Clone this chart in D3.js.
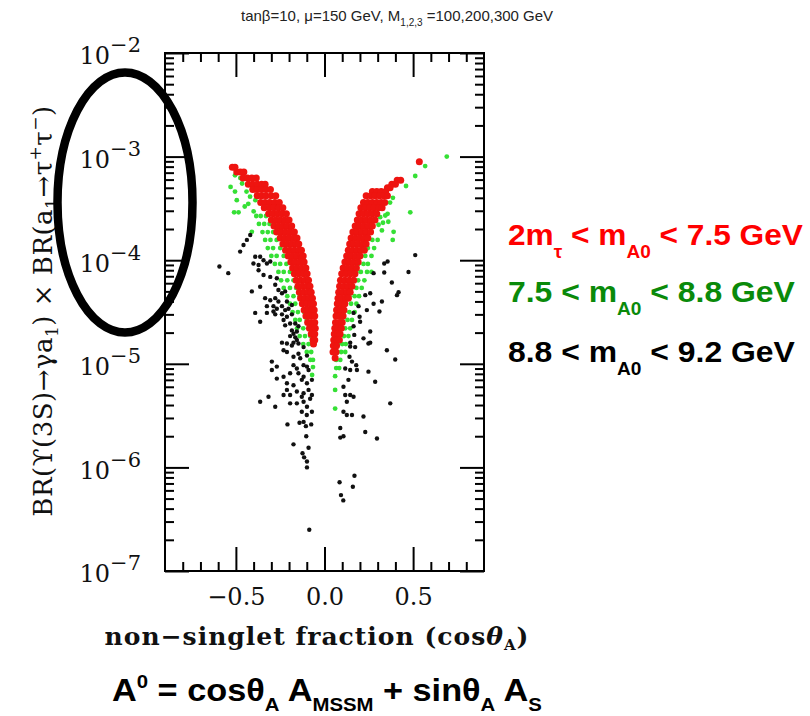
<!DOCTYPE html>
<html><head><meta charset="utf-8">
<script src="https://cdn.jsdelivr.net/npm/d3@7/dist/d3.min.js"></script>
<style>body{margin:0;background:#fff}svg{display:block}</style>
</head><body>
<svg id="chart" width="810" height="716"></svg>
<script>
// ---------- data: [cosθA, BR] ----------
const redPts = [
[-0.52,7.9e-4],[-0.505,7.9e-4],
[-0.495,7.1e-4],[-0.475,7.1e-4],[-0.455,7.1e-4],
[-0.46,6.2e-4],[-0.435,6.2e-4],[-0.41,6.2e-4],[-0.385,6.2e-4],
[-0.43,5.4e-4],[-0.405,5.4e-4],[-0.38,5.4e-4],[-0.355,5.4e-4],[-0.335,5.4e-4],
[-0.405,4.8e-4],[-0.38,4.8e-4],[-0.355,4.8e-4],[-0.33,4.8e-4],[-0.305,4.8e-4],
[-0.38,4.2e-4],[-0.355,4.2e-4],[-0.33,4.2e-4],[-0.30,4.2e-4],[-0.275,4.2e-4],
[-0.36,3.6e-4],[-0.335,3.6e-4],[-0.31,3.6e-4],[-0.28,3.6e-4],[-0.255,3.6e-4],
[-0.34,3.2e-4],[-0.31,3.2e-4],[-0.285,3.2e-4],[-0.26,3.2e-4],[-0.235,3.2e-4],
[-0.315,2.8e-4],[-0.29,2.8e-4],[-0.265,2.8e-4],[-0.24,2.8e-4],[-0.215,2.8e-4],
[-0.30,2.44e-4],[-0.275,2.44e-4],[-0.25,2.44e-4],[-0.225,2.44e-4],[-0.20,2.44e-4],
[-0.285,2.14e-4],[-0.26,2.14e-4],[-0.235,2.14e-4],[-0.21,2.14e-4],[-0.185,2.14e-4],
[-0.27,1.87e-4],[-0.245,1.87e-4],[-0.22,1.87e-4],[-0.195,1.87e-4],[-0.17,1.87e-4],
[-0.25,1.64e-4],[-0.225,1.64e-4],[-0.20,1.64e-4],[-0.175,1.64e-4],[-0.155,1.64e-4],
[-0.235,1.43e-4],[-0.21,1.43e-4],[-0.185,1.43e-4],[-0.16,1.43e-4],[-0.145,1.43e-4],
[-0.22,1.25e-4],[-0.195,1.25e-4],[-0.17,1.25e-4],[-0.145,1.25e-4],[-0.13,1.25e-4],
[-0.205,1.1e-4],[-0.18,1.1e-4],[-0.155,1.1e-4],[-0.13,1.1e-4],[-0.12,1.1e-4],
[-0.19,9.6e-5],[-0.165,9.6e-5],[-0.14,9.6e-5],[-0.115,9.6e-5],
[-0.18,8.4e-5],[-0.155,8.4e-5],[-0.13,8.4e-5],[-0.105,8.4e-5],
[-0.17,7.4e-5],[-0.145,7.4e-5],[-0.12,7.4e-5],[-0.098,7.4e-5],
[-0.16,6.4e-5],[-0.135,6.4e-5],[-0.11,6.4e-5],[-0.09,6.4e-5],
[-0.15,5.6e-5],[-0.125,5.6e-5],[-0.1,5.6e-5],[-0.082,5.6e-5],
[-0.142,4.9e-5],[-0.118,4.9e-5],[-0.094,4.9e-5],[-0.075,4.9e-5],
[-0.135,4.3e-5],[-0.11,4.3e-5],[-0.087,4.3e-5],[-0.068,4.3e-5],
[-0.125,3.8e-5],[-0.1,3.8e-5],[-0.078,3.8e-5],[-0.062,3.8e-5],
[-0.115,3.3e-5],[-0.092,3.3e-5],[-0.07,3.3e-5],[-0.058,3.3e-5],
[-0.105,2.9e-5],[-0.085,2.9e-5],[-0.065,2.9e-5],[-0.055,2.9e-5],
[-0.095,2.5e-5],[-0.075,2.5e-5],[-0.055,2.5e-5],
[-0.085,2.2e-5],[-0.068,2.2e-5],[-0.052,2.2e-5],
[-0.075,1.94e-5],[-0.055,1.94e-5],
[-0.065,1.7e-5],[-0.055,1.7e-5],
[-0.062,1.55e-5],
[0.535,8.9e-4],
[0.41,5.9e-4],[0.43,5.9e-4],
[0.38,5.4e-4],[0.40,5.4e-4],
[0.355,5.0e-4],[0.37,5.0e-4],
[0.27,4.6e-4],[0.295,4.6e-4],[0.32,4.6e-4],[0.345,4.6e-4],
[0.235,4.2e-4],[0.26,4.2e-4],[0.285,4.2e-4],[0.31,4.2e-4],[0.335,4.2e-4],[0.355,4.2e-4],
[0.22,3.6e-4],[0.245,3.6e-4],[0.27,3.6e-4],[0.295,3.6e-4],[0.32,3.6e-4],[0.34,3.6e-4],
[0.205,3.2e-4],[0.23,3.2e-4],[0.255,3.2e-4],[0.28,3.2e-4],[0.305,3.2e-4],[0.325,3.2e-4],
[0.195,2.8e-4],[0.22,2.8e-4],[0.245,2.8e-4],[0.27,2.8e-4],[0.295,2.8e-4],
[0.185,2.44e-4],[0.21,2.44e-4],[0.235,2.44e-4],[0.26,2.44e-4],[0.285,2.44e-4],
[0.173,2.14e-4],[0.197,2.14e-4],[0.222,2.14e-4],[0.247,2.14e-4],[0.27,2.14e-4],
[0.16,1.87e-4],[0.185,1.87e-4],[0.21,1.87e-4],[0.235,1.87e-4],[0.26,1.87e-4],
[0.15,1.64e-4],[0.175,1.64e-4],[0.20,1.64e-4],[0.225,1.64e-4],[0.245,1.64e-4],
[0.142,1.43e-4],[0.165,1.43e-4],[0.19,1.43e-4],[0.215,1.43e-4],[0.235,1.43e-4],
[0.134,1.25e-4],[0.158,1.25e-4],[0.182,1.25e-4],[0.206,1.25e-4],[0.225,1.25e-4],
[0.125,1.1e-4],[0.15,1.1e-4],[0.175,1.1e-4],[0.2,1.1e-4],
[0.115,9.6e-5],[0.14,9.6e-5],[0.165,9.6e-5],[0.19,9.6e-5],
[0.105,8.4e-5],[0.13,8.4e-5],[0.155,8.4e-5],[0.18,8.4e-5],
[0.097,7.4e-5],[0.122,7.4e-5],[0.147,7.4e-5],[0.172,7.4e-5],
[0.09,6.4e-5],[0.115,6.4e-5],[0.14,6.4e-5],[0.165,6.4e-5],
[0.085,5.6e-5],[0.11,5.6e-5],[0.133,5.6e-5],[0.155,5.6e-5],
[0.08,4.9e-5],[0.103,4.9e-5],[0.126,4.9e-5],[0.145,4.9e-5],
[0.076,4.3e-5],[0.098,4.3e-5],[0.12,4.3e-5],[0.135,4.3e-5],
[0.072,3.8e-5],[0.094,3.8e-5],[0.115,3.8e-5],
[0.068,3.3e-5],[0.09,3.3e-5],[0.11,3.3e-5],
[0.065,2.9e-5],[0.086,2.9e-5],[0.105,2.9e-5],
[0.062,2.5e-5],[0.082,2.5e-5],[0.1,2.5e-5],
[0.058,2.2e-5],[0.078,2.2e-5],[0.095,2.2e-5],
[0.055,1.94e-5],[0.075,1.94e-5],[0.088,1.94e-5],
[0.052,1.7e-5],[0.07,1.7e-5],[0.084,1.7e-5],
[0.05,1.49e-5],[0.068,1.49e-5],
[0.048,1.3e-5],[0.065,1.3e-5],
[0.06,1.14e-5]
];

const greenPts = [
[-0.53,5.1e-4],[-0.505,6.6e-4],[-0.505,4.6e-4],[-0.495,3.8e-4],[-0.51,2.9e-4],[-0.485,2.9e-4],
[-0.45,3.3e-4],[-0.43,3.5e-4],[-0.40,2.96e-4],[-0.465,5.5e-4],[-0.44,4.6e-4],[-0.42,4.1e-4],
[-0.39,3.8e-4],[-0.41,1.88e-4],[-0.475,6.2e-4],
[-0.385,2.67e-4],[-0.36,2.67e-4],[-0.33,2.67e-4],
[-0.37,2.24e-4],[-0.34,2.24e-4],[-0.31,2.24e-4],
[-0.35,1.87e-4],[-0.32,1.87e-4],[-0.29,1.87e-4],
[-0.335,1.57e-4],[-0.305,1.57e-4],[-0.27,1.57e-4],
[-0.32,1.31e-4],[-0.29,1.31e-4],[-0.25,1.31e-4],
[-0.30,1.1e-4],[-0.27,1.1e-4],[-0.23,1.1e-4],
[-0.28,9.2e-5],[-0.25,9.2e-5],[-0.215,9.2e-5],
[-0.26,7.7e-5],[-0.23,7.7e-5],[-0.195,7.7e-5],
[-0.245,6.4e-5],[-0.21,6.4e-5],[-0.175,6.4e-5],
[-0.23,5.4e-5],[-0.195,5.4e-5],[-0.16,5.4e-5],
[-0.21,4.5e-5],[-0.175,4.5e-5],[-0.14,4.5e-5],
[-0.195,3.8e-5],[-0.165,3.8e-5],[-0.13,3.8e-5],
[-0.18,3.16e-5],[-0.15,3.16e-5],[-0.115,3.16e-5],
[-0.165,2.65e-5],[-0.14,2.65e-5],[-0.10,2.65e-5],
[-0.155,2.2e-5],[-0.12,2.2e-5],[-0.085,2.2e-5],
[-0.14,1.85e-5],[-0.11,1.85e-5],[-0.08,1.85e-5],
[-0.12,1.55e-5],[-0.09,1.55e-5],[-0.07,1.55e-5],
[-0.10,1.3e-5],[-0.075,1.3e-5],
[-0.08,1.09e-5],[-0.065,1.09e-5],
[-0.065,9.3e-6],[-0.07,7.8e-6],
[0.69,1.0e-3],[0.568,8.1e-4],[0.512,6.5e-4],[0.46,5.2e-4],[0.484,2.9e-4],[0.386,4.0e-4],
[0.37,3.6e-4],[0.356,2.8e-4],[0.36,2.35e-4],[0.39,1.88e-4],[0.343,2.7e-4],[0.314,2.6e-4],
[0.305,2.2e-4],[0.324,1.94e-4],[0.33,2.3e-4],
[0.235,1.57e-4],[0.27,1.57e-4],[0.30,1.57e-4],[0.385,1.57e-4],
[0.22,1.31e-4],[0.245,1.31e-4],[0.28,1.31e-4],
[0.20,1.1e-4],[0.23,1.1e-4],[0.265,1.1e-4],
[0.19,9.2e-5],[0.22,9.2e-5],[0.245,9.2e-5],
[0.18,7.7e-5],[0.205,7.7e-5],[0.24,7.7e-5],[0.265,7.7e-5],
[0.16,6.4e-5],[0.19,6.4e-5],[0.225,6.4e-5],
[0.15,5.4e-5],[0.18,5.4e-5],[0.21,5.4e-5],
[0.14,4.5e-5],[0.17,4.5e-5],[0.195,4.5e-5],
[0.12,3.8e-5],[0.15,3.8e-5],[0.18,3.8e-5],
[0.11,3.16e-5],[0.14,3.16e-5],[0.17,3.16e-5],
[0.10,2.65e-5],[0.13,2.65e-5],[0.155,2.65e-5],
[0.095,2.2e-5],[0.117,2.2e-5],[0.145,2.2e-5],
[0.083,1.85e-5],[0.11,1.85e-5],[0.135,1.85e-5],
[0.077,1.55e-5],[0.10,1.55e-5],[0.12,1.55e-5],
[0.072,1.3e-5],[0.094,1.3e-5],[0.117,1.3e-5],
[0.066,1.09e-5],[0.089,1.09e-5],
[0.066,9.1e-6],[0.083,9.1e-6],
[0.06,7.6e-6],[0.06,5.6e-6],[0.06,3.7e-6]
];

const blackPts = [
[-0.593,8.7e-5],[-0.543,7.5e-5],[-0.476,1.21e-4],[-0.457,1.4e-4],[-0.438,1.57e-4],[-0.419,1.75e-4],
[-0.391,1.08e-4],[-0.363,1.08e-4],[-0.344,1.0e-4],[-0.401,9.3e-5],[-0.372,9.0e-5],[-0.325,9.3e-5],
[-0.306,9.7e-5],[-0.372,8.0e-5],[-0.344,7.2e-5],[-0.306,6.9e-5],[-0.269,6.7e-5],[-0.363,5.55e-5],
[-0.41,5.0e-5],[-0.278,5.8e-5],[-0.26,5.15e-5],[-0.24,4.8e-5],[-0.222,5.0e-5],[-0.278,4.3e-5],
[-0.306,4.1e-5],[-0.335,4.3e-5],[-0.325,3.6e-5],[-0.288,3.6e-5],[-0.24,3.6e-5],[-0.222,3.3e-5],
[-0.184,3.7e-5],[-0.26,4.0e-5],[-0.212,4.0e-5],[-0.203,3.4e-5],[-0.269,3.4e-5],[-0.288,3.2e-5],
[-0.391,3.1e-5],[-0.325,3.1e-5],[-0.278,3.0e-5],[-0.24,3.0e-5],[-0.212,2.85e-5],[-0.184,3.0e-5],
[-0.363,2.55e-5],[-0.231,2.65e-5],[-0.194,2.45e-5],[-0.165,2.45e-5],[-0.222,2.35e-5],[-0.184,2.1e-5],
[-0.156,2.05e-5],[-0.147,2.3e-5],[-0.175,1.95e-5],[-0.194,1.85e-5],[-0.165,1.8e-5],[-0.156,1.7e-5],
[-0.24,1.6e-5],[-0.212,1.57e-5],[-0.175,1.6e-5],[-0.147,1.57e-5],[-0.184,1.5e-5],[-0.231,1.35e-5],
[-0.212,1.3e-5],[-0.118,1.45e-5],[-0.147,1.25e-5],[-0.175,1.17e-5],[-0.137,1.13e-5],[-0.099,1.2e-5],
[-0.297,1.05e-5],[-0.269,9.4e-6],[-0.175,9.7e-6],[-0.156,9.0e-6],[-0.118,9.7e-6],[-0.099,9.4e-6],
[-0.297,8.7e-6],[-0.269,7.2e-6],[-0.231,7.5e-6],[-0.194,8.1e-6],[-0.147,8.1e-6],[-0.118,7.5e-6],
[-0.09,8.7e-6],[-0.212,6.5e-6],[-0.175,6.2e-6],[-0.128,7.0e-6],[-0.099,6.5e-6],[-0.071,7.0e-6],
[-0.212,5.6e-6],[-0.156,5.4e-6],[-0.118,5.2e-6],[-0.09,5.6e-6],[-0.194,5.0e-6],[-0.128,4.8e-6],
[-0.071,5.0e-6],[-0.231,5.0e-6],[-0.363,4.3e-6],[-0.316,4.8e-6],[-0.278,3.85e-6],[-0.194,4.15e-6],
[-0.156,4.15e-6],[-0.118,4.3e-6],[-0.081,4.6e-6],[-0.099,3.85e-6],[-0.128,3.45e-6],[-0.071,3.45e-6],
[-0.10,3.2e-6],[-0.209,2.6e-6],[-0.141,2.7e-6],[-0.118,2.75e-6],[-0.105,2.5e-6],[-0.075,2.6e-6],
[-0.103,2.0e-6],[-0.175,1.67e-6],[-0.09,1.55e-6],[-0.124,1.37e-6],[-0.115,1.25e-6],[-0.099,1.14e-6],
[-0.099,1.0e-6],[-0.086,2.5e-7],
[0.512,1.12e-4],[0.356,9.7e-5],[0.337,9.3e-5],[0.277,7.5e-5],[0.337,7.6e-5],[0.474,7.7e-5],
[0.38,6.1e-5],[0.418,4.9e-5],[0.409,4.6e-5],[0.258,4.8e-5],[0.23,4.6e-5],[0.277,3.8e-5],
[0.324,4.0e-5],[0.31,3.2e-5],[0.192,3.6e-5],[0.239,3.3e-5],[0.164,3.1e-5],[0.198,2.85e-5],
[0.201,2.55e-5],[0.164,2.3e-5],[0.258,2.05e-5],[0.22,1.76e-5],[0.168,1.9e-5],[0.145,1.6e-5],
[0.258,1.6e-5],[0.248,1.57e-5],[0.173,1.45e-5],[0.145,1.47e-5],[0.352,1.35e-5],[0.399,1.1e-5],
[0.141,1.17e-5],[0.155,1.05e-5],[0.179,9.7e-6],[0.117,9.0e-6],[0.145,8.7e-6],[0.183,8.7e-6],
[0.248,8.4e-6],[0.135,7.0e-6],[0.286,6.7e-6],[0.107,6.0e-6],[0.145,5.0e-6],[0.117,5.0e-6],
[0.164,4.8e-6],[0.371,4.15e-6],[0.126,4.3e-6],[0.107,3.45e-6],[0.155,3.2e-6],[0.22,3.1e-6],
[0.126,3.2e-6],[0.089,2.4e-6],[0.23,2.2e-6],[0.089,1.94e-6],[0.107,2.0e-6],[0.296,1.9e-6],
[0.169,8.3e-7],[0.085,7.2e-7],[0.16,6.5e-7],[0.093,5.4e-7],[0.106,4.8e-7]
];

// ---------- axes / labels ----------
const xDomain = [-0.9, 0.9];
const yDomain = [1e-7, 1e-2];
const xMajorTicks = [-0.5, 0, 0.5];
const xTickLabels = ["\u22120.5", "0.0", "0.5"];
const yMajorTicks = [1e-2, 1e-3, 1e-4, 1e-5, 1e-6, 1e-7];
const yTickExponents = ["\u22122", "\u22123", "\u22124", "\u22125", "\u22126", "\u22127"];
const legendLabels = [
  [["2m",""],["\u03c4","sub"],[" < m",""],["A0","sub"],[" < 7.5 GeV",""]],
  [["7.5 < m",""],["A0","sub"],[" < 8.8 GeV",""]],
  [["8.8 < m",""],["A0","sub"],[" < 9.2 GeV",""]]
];
const legendColors = ["#ff0000", "#0a8a0a", "#000000"];
const formulaParts = [["A",""],["0","sup"],[" = cos\u03b8",""],["A","sub"],[" A",""],["MSSM","sub"],[" + sin\u03b8",""],["A","sub"],[" A",""],["S","sub"]];

const W = 810, H = 716;
const L = 165, R = 484, T = 53, B = 571;
const svg = d3.select("#chart");
svg.append("rect").attr("width", W).attr("height", H).attr("fill", "#fff");

const x = d3.scaleLinear().domain(xDomain).range([L, R]);
const y = d3.scaleLog().domain(yDomain).range([B, T]);

const xMinorTicks = d3.range(-8, 9).map(v => v / 10).filter(v => Math.abs(v * 2 - Math.round(v * 2)) > 1e-9);
const yMinorTicks = [];
for (let e = -7; e < -2; e++) for (let m = 2; m <= 9; m++) yMinorTicks.push(m * Math.pow(10, e));

const serif = "'DejaVu Serif', serif";
const sans = "'Liberation Sans', Arial, sans-serif";

// points
function drawPts(data, color, r) {
  svg.append("g").selectAll("circle").data(data).join("circle")
    .attr("cx", d => x(d[0])).attr("cy", d => y(d[1]))
    .attr("r", r).attr("fill", color);
}
drawPts(greenPts, "#35e035", 2.4);
drawPts(redPts, "#ee1410", 3.5);
drawPts(blackPts, "#111111", 2.2);

function styleAxis(g) {
  g.select(".domain").remove();
  g.selectAll(".tick line").attr("stroke", "#000").attr("stroke-width", 2);
}
// bottom
svg.append("g").attr("transform", `translate(0,${B})`)
  .call(d3.axisBottom(x).tickValues(xMajorTicks).tickSize(-24).tickSizeOuter(0).tickPadding(17)
    .tickFormat((d, i) => xTickLabels[i]))
  .call(styleAxis)
  .call(g => g.selectAll(".tick text").attr("font-family", serif).attr("font-size", 24).attr("fill", "#111"));
svg.append("g").attr("transform", `translate(0,${B})`)
  .call(d3.axisBottom(x).tickValues(xMinorTicks).tickSize(-9).tickSizeOuter(0).tickFormat(""))
  .call(styleAxis);
// top
svg.append("g").attr("transform", `translate(0,${T})`)
  .call(d3.axisTop(x).tickValues(xMajorTicks).tickSize(-24).tickSizeOuter(0).tickFormat(""))
  .call(styleAxis);
svg.append("g").attr("transform", `translate(0,${T})`)
  .call(d3.axisTop(x).tickValues(xMinorTicks).tickSize(-9).tickSizeOuter(0).tickFormat(""))
  .call(styleAxis);
// left
svg.append("g").attr("transform", `translate(${L},0)`)
  .call(d3.axisLeft(y).tickValues(yMajorTicks).tickSize(-24).tickSizeOuter(0).tickPadding(24).tickFormat(() => ""))
  .call(styleAxis)
  .call(g => g.selectAll(".tick text").each(function(d, i) {
    const t = d3.select(this).attr("font-family", serif).attr("font-size", 24).attr("fill", "#111").attr("dy", "0.45em");
    t.append("tspan").text("10");
    t.append("tspan").attr("font-size", 21).attr("dy", -12).text(yTickExponents[i]);
  }));
svg.append("g").attr("transform", `translate(${L},0)`)
  .call(d3.axisLeft(y).tickValues(yMinorTicks).tickSize(-9).tickSizeOuter(0).tickFormat(() => ""))
  .call(styleAxis);
// right
svg.append("g").attr("transform", `translate(${R},0)`)
  .call(d3.axisRight(y).tickValues(yMajorTicks).tickSize(-24).tickSizeOuter(0).tickFormat(() => ""))
  .call(styleAxis);
svg.append("g").attr("transform", `translate(${R},0)`)
  .call(d3.axisRight(y).tickValues(yMinorTicks).tickSize(-9).tickSizeOuter(0).tickFormat(() => ""))
  .call(styleAxis);

// frame
svg.append("rect").attr("x", L).attr("y", T).attr("width", R - L).attr("height", B - T)
  .attr("fill", "none").attr("stroke", "#000").attr("stroke-width", 2);

// helper: rich text with sub/sup parts
function richText(t, parts, mainSize, subSize, subDy, supDy) {
  let shift = 0;
  parts.forEach(([s, k]) => {
    const target = k === "sub" ? subDy : k === "sup" ? supDy : 0;
    t.append("tspan").attr("font-size", k ? subSize : mainSize).attr("dy", target - shift).text(s);
    shift = target;
  });
}
// fit a text element horizontally to a target width, anchored at its left x
function fitWidth(t, x0, yb, targetW) {
  const w = t.node().getComputedTextLength ? t.node().getBBox().width : targetW;
  const s = targetW / w;
  t.attr("x", 0).attr("y", 0).attr("transform", `translate(${x0},${yb}) scale(${s},1)`);
}

// title
const title = svg.append("text").attr("font-family", sans).attr("fill", "#222");
richText(title, [["tan\u03b2=10, \u03bc=150 GeV, M",""],["1,2,3","sub"],[" =100,200,300 GeV",""]], 15, 10, 5, 0);
title.attr("x", 241).attr("y", 21);

// y axis label
const yl = svg.append("text").attr("transform", "translate(52,311) rotate(-90)")
  .attr("text-anchor", "middle").attr("font-family", serif).attr("font-size", 26)
  .attr("letter-spacing", 0.5).attr("fill", "#111");
richText(yl, [["BR(\u03d2(3S)\u2192\u03b3a",""],["1","sub"],[") \u00d7 BR(a",""],["1","sub"],["\u2192\u03c4",""],["+","sup"],["\u03c4",""],["\u2212","sup"],[")",""]], 26, 17, 6, -11);

// x axis label
const xl = svg.append("text").attr("x", 317).attr("y", 645).attr("text-anchor", "middle")
  .attr("font-family", serif).attr("font-weight", "bold").attr("font-size", 25)
  .attr("letter-spacing", 1).attr("fill", "#111");
xl.append("tspan").text("non\u2212singlet fraction (cos");
xl.append("tspan").attr("font-style", "italic").text("\u03b8");
xl.append("tspan").attr("font-size", 15).attr("dy", 5).text("A");
xl.append("tspan").attr("dy", -5).text(")");

// ellipse annotation
svg.append("ellipse").attr("cx", 125).attr("cy", 202.5).attr("rx", 67.5).attr("ry", 130)
  .attr("fill", "none").attr("stroke", "#000").attr("stroke-width", 8.5);

// legend text
const legendY = [245, 302, 362];
const legendW = [295, 287, 287];
legendLabels.forEach((parts, i) => {
  const t = svg.append("text").attr("font-family", sans).attr("font-weight", "bold").attr("fill", legendColors[i]);
  richText(t, parts, 30, 18, 13, 0);
  fitWidth(t, 508, legendY[i], legendW[i]);
});

// formula
const f = svg.append("text").attr("font-family", sans).attr("font-weight", "bold").attr("fill", "#000");
richText(f, formulaParts, 32, 19, 10, -13);
fitWidth(f, 112, 701, 430);
</script>
</body></html>
